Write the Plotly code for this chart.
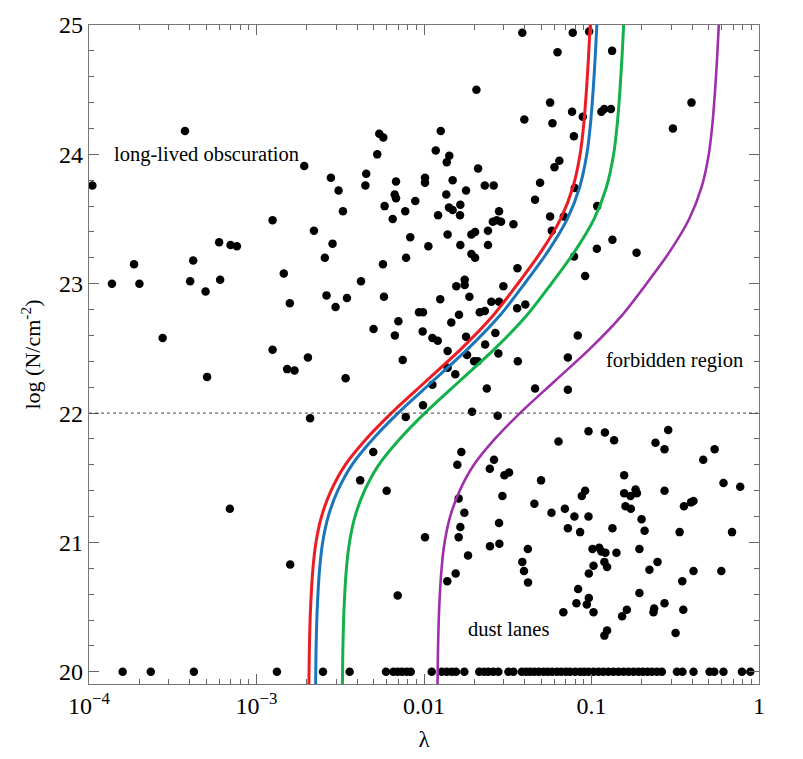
import plotly.graph_objects as go

# detected sources: log10(lambda) and log N (cm^-2)
det_loglam = [
    -3.980, -3.427, -3.863, -3.731, -3.699, -3.560, -3.378, -3.396, -3.304, -3.223,
    -3.217, -3.155, -3.117, -3.295, -2.904, -2.837, -2.801, -2.904, -2.817, -2.773,
    -2.693, -2.715, -2.657, -2.592, -2.546, -2.582, -2.528, -2.460, -2.468, -2.556,
    -2.510, -2.484, -2.376, -2.301, -2.350, -2.345, -2.279, -2.267, -2.243, -2.167,
    -2.175, -2.167, -2.235, -2.187, -2.245, -2.239, -2.174, -2.153, -2.127,
    -1.413, -1.112, -1.014, -1.203, -0.877, -1.687, -1.247, -1.116, -1.052, -1.401,
    -1.233, -1.105, -0.941, -0.924, -0.884, -0.403, -0.514, -1.900, -1.930, -1.849,
    -1.864, -1.677, -1.192, -1.221, -1.994, -1.994, -1.829, -1.307, -1.637, -1.584,
    -1.749, -1.867, -2.052, -2.112, -1.851, -1.829, -1.783, -1.916, -1.785, -1.552,
    -1.337, -1.589, -1.566, -1.540, -1.466, -1.618, -1.717, -1.695, -1.859, -2.082,
    -1.974, -1.783, -1.618, -1.247, -1.165, -1.237, -0.966, -1.100, -2.107, -1.717,
    -1.695, -1.104, -0.968, -0.875, -0.731, -1.038, -1.442, -1.757, -1.757, -1.807,
    -1.526, -1.729, -1.903, -1.598, -1.552, -1.444, -1.395, -2.030, -2.006, -1.791,
    -1.667, -1.637, -1.837, -2.008, -1.950, -1.918, -1.749, -1.574, -1.082, -1.635,
    -1.859, -1.743, -1.556, -1.701, -1.680, -1.440, -1.141, -1.859, -1.813,
    -1.950, -1.625, -1.337, -1.141, -2.006, -1.713, -1.560, -2.109,
    -2.680, -3.159, -2.799, -2.303, -2.381, -2.223, -2.157,
    -1.018, -0.920, -0.865, -0.542, -0.618, -0.564, -0.265, -0.333, -1.197, -1.777,
    -1.801, -1.582, -1.607, -1.520, -1.492, -1.301, -0.805, -0.212, -0.112, -1.038,
    -1.058, -0.805, -0.767, -0.737, -0.729, -0.564, -1.793, -1.532, -1.341, -1.759,
    -1.239, -1.159, -1.102, -1.018, -0.797, -0.765, -0.448, -0.406, -0.391, -0.701,
    -1.783, -1.552, -1.141, -1.068, -0.875, -0.683, -0.474, -0.161, -1.994, -1.793,
    -1.606, -1.550, -1.737, -1.380, -0.994, -0.954, -0.941, -0.917, -0.851, -0.714,
    -1.413, -1.403, -1.379, -1.861, -1.811, -0.988, -0.923, -0.907, -1.016, -0.654,
    -0.606, -0.391, -0.225, -0.458, -1.080, -0.714, -1.016, -1.028, -1.090, -1.168,
    -0.988, -0.789, -0.817, -0.626, -0.630, -0.564, -0.452, -0.907, -0.923, -0.498,
]
det_logn = [
    23.76, 24.18, 23.00, 23.15, 23.00, 22.58, 23.18, 23.02, 22.94, 23.32,
    23.03, 23.30, 23.29, 22.28, 23.49, 23.08, 22.85, 22.49, 22.34, 22.33,
    22.43, 23.91, 23.41, 23.20, 23.31, 22.91, 22.82, 22.89, 22.27, 23.82,
    23.72, 23.56, 23.02, 22.65, 23.76, 23.85, 24.00, 24.16, 24.13, 23.79,
    23.69, 23.66, 23.60, 23.50, 23.15, 22.90, 22.60, 22.71, 22.41,
    24.94, 24.94, 24.95, 24.79, 24.80, 24.50, 24.40, 24.33, 24.29, 24.27,
    24.24, 24.14, 24.33, 24.35, 24.35, 24.40, 24.20, 24.18, 24.03, 23.99,
    23.94, 23.89, 23.95, 23.90, 23.82, 23.78, 23.80, 23.78, 23.76, 23.76,
    23.72, 23.69, 23.64, 23.56, 23.59, 23.57, 23.61, 23.53, 23.53, 23.56,
    23.65, 23.48, 23.49, 23.48, 23.46, 23.41, 23.38, 23.40, 23.38, 23.36,
    23.29, 23.30, 23.30, 23.52, 23.52, 23.41, 23.60, 23.74, 23.20, 23.23,
    23.20, 23.21, 23.27, 23.34, 23.24, 23.06, 23.12, 23.03, 22.99, 22.98,
    22.98, 22.90, 22.88, 22.86, 22.86, 22.81, 22.84, 22.78, 22.78, 22.76,
    22.78, 22.79, 22.70, 22.63, 22.58, 22.56, 22.59, 22.62, 22.60, 22.53,
    22.48, 22.45, 22.46, 22.40, 22.40, 22.40, 22.43, 22.35, 22.30,
    22.22, 22.19, 22.19, 22.18, 22.06, 22.01, 21.98, 21.97,
    21.96, 21.26, 20.83, 21.70, 21.48, 21.40, 20.59,
    21.86, 21.85, 21.79, 21.87, 21.77, 21.72, 21.72, 21.64, 21.78, 21.70,
    21.60, 21.64, 21.57, 21.52, 21.54, 21.48, 21.52, 21.46, 21.43, 21.40,
    21.36, 21.38, 21.36, 21.41, 21.38, 21.40, 21.34, 21.36, 21.30, 21.23,
    21.23, 21.26, 21.20, 21.20, 21.28, 21.26, 21.28, 21.31, 21.32, 21.18,
    21.12, 21.15, 21.11, 21.08, 21.11, 21.09, 21.08, 21.08, 21.04, 21.04,
    20.97, 20.99, 20.90, 20.95, 20.95, 20.96, 20.93, 20.92, 20.92, 20.95,
    20.85, 20.78, 20.69, 20.70, 20.76, 20.82, 20.85, 20.81, 20.76, 20.79,
    20.85, 20.78, 20.78, 20.70, 20.64, 20.61, 20.57, 20.52, 20.53, 20.46,
    20.46, 20.48, 20.43, 20.49, 20.46, 20.53, 20.48, 20.32, 20.28, 20.30,
]

# sources sitting at the log N = 20 floor
floor_loglam = [
    -3.799, -3.631, -3.374, -2.878, -2.603, -2.444, -2.227, -2.183, -2.157, -2.131,
    -2.103, -2.079, -1.954, -1.894, -1.864, -1.834, -1.809, -1.759, -1.670, -1.641,
    -1.616, -1.586, -1.556, -1.496, -1.466, -1.416, -1.390, -1.367, -1.341, -1.315,
    -1.287, -1.261, -1.235, -1.207, -1.181, -1.153, -1.128, -1.098, -1.068, -1.044,
    -1.018, -0.988, -0.958, -0.929, -0.899, -0.869, -0.839, -0.809, -0.779, -0.749,
    -0.719, -0.693, -0.666, -0.639, -0.609, -0.580, -0.490, -0.457, -0.391, -0.295,
    -0.267, -0.212, -0.102, -0.052,
]
floor_logn = [20.0] * len(floor_loglam)

# effective Eddington limit curves: log10(lambda) at each log N
curve_logn = [19.906, 20.2, 20.5, 20.8, 21.0, 21.2, 21.4, 21.6, 21.8, 22.0, 22.25,
              22.5, 22.75, 23.0, 23.25, 23.5, 23.75, 24.0, 24.25, 24.5, 24.75, 25.0]
red_loglam = [-2.687, -2.684, -2.677, -2.663, -2.645, -2.612, -2.555, -2.470, -2.345,
              -2.195, -1.985, -1.775, -1.590, -1.440, -1.300, -1.185, -1.110, -1.068,
              -1.045, -1.030, -1.018, -1.008]
blue_loglam = [-2.647, -2.644, -2.637, -2.623, -2.605, -2.572, -2.515, -2.430, -2.305,
               -2.155, -1.945, -1.735, -1.550, -1.400, -1.260, -1.145, -1.070, -1.028,
               -1.005, -0.990, -0.978, -0.968]
green_loglam = [-2.487, -2.484, -2.477, -2.463, -2.445, -2.412, -2.355, -2.270, -2.145,
                -1.995, -1.785, -1.575, -1.390, -1.240, -1.100, -0.985, -0.910, -0.868,
                -0.845, -0.830, -0.818, -0.808]
purple_loglam = [-1.919, -1.916, -1.909, -1.895, -1.877, -1.844, -1.787, -1.702, -1.577,
                 -1.427, -1.217, -1.007, -0.822, -0.672, -0.532, -0.417, -0.342, -0.300,
                 -0.277, -0.262, -0.250, -0.240]

tick_vals = [1e-4, 1e-3, 0.01, 0.1, 1]
tick_text = ["10<sup>\u22124</sup>", "10<sup>\u22123</sup>", "0.01", "0.1", "1"]

# region labels: text, log10(lambda) of left edge, log N
region_labels = [("long-lived obscuration", -3.86, 24.0),
                 ("forbidden region", -0.924, 22.41),
                 ("dust lanes", -1.751, 20.33)]

serif = "Liberation Serif, Times New Roman, serif"

fig = go.Figure()

fig.add_trace(go.Scatter(
    x=[10 ** v for v in det_loglam] + [10 ** v for v in floor_loglam],
    y=det_logn + floor_logn,
    mode="markers",
    marker=dict(color="black", size=8.5),
    showlegend=False,
))

curves = [
    (purple_loglam, "#9e2fab", 2.6),
    (green_loglam, "#13b04b", 3),
    (blue_loglam, "#1b75bc", 3),
    (red_loglam, "#ec1c24", 3),
]
for vals, color, w in curves:
    fig.add_trace(go.Scatter(
        x=[10 ** v for v in vals], y=curve_logn,
        mode="lines", line=dict(color=color, width=w, shape="spline", smoothing=0.8),
        showlegend=False,
    ))

# log N = 22 reference line
fig.add_shape(type="line", xref="paper", x0=0, x1=1, yref="y", y0=22, y1=22,
              line=dict(color="#444444", width=1, dash="dot"))

# annotation x on a log axis is given in log10 units
for txt, lx, y in region_labels:
    fig.add_annotation(x=lx, y=y, xref="x", yref="y", text=txt, showarrow=False,
                       xanchor="left", yanchor="middle",
                       font=dict(family=serif, size=20.5, color="black"))

fig.update_xaxes(
    type="log", range=[-4, 0],
    tickvals=tick_vals, ticktext=tick_text,
    ticks="inside", ticklen=10, tickcolor="#666666",
    minor=dict(ticks="inside", ticklen=5, dtick="D1", tickcolor="#666666", showgrid=False),
    showline=True, linecolor="#777777", linewidth=1.3, mirror="allticks",
    showgrid=False, zeroline=False,
    tickfont=dict(family=serif, size=24, color="black"),
    title=dict(text="\u03bb", font=dict(family=serif, size=23, color="black"), standoff=12),
)
fig.update_yaxes(
    range=[19.906, 25],
    dtick=1, tick0=20,
    ticks="inside", ticklen=10, tickcolor="#666666",
    minor=dict(ticks="inside", ticklen=5, dtick=0.2, tickcolor="#666666", showgrid=False),
    showline=True, linecolor="#777777", linewidth=1.3, mirror="allticks",
    showgrid=False, zeroline=False,
    tickfont=dict(family=serif, size=24, color="black"),
    title=dict(text="log (N/cm<sup>-2</sup>)", font=dict(family=serif, size=22, color="black"),
               standoff=12),
)

fig.update_layout(
    width=803, height=759,
    margin=dict(l=89, r=44, t=16, b=74),
    plot_bgcolor="white", paper_bgcolor="white",
)

fig.write_html("out.html", config={"displayModeBar": False},
               post_script="document.body.style.margin='0';")
